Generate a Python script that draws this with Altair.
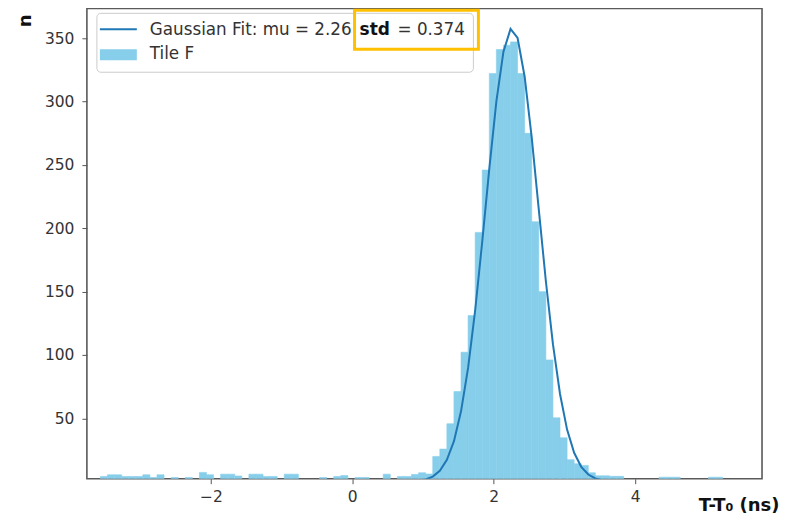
import altair as alt
import pandas as pd

# ---------------- data ----------------
bin_start = -3.562
bin_width = 0.1
counts = [
    4.1, 5.4, 5.4, 4.1, 4.1, 4.1, 5.4, 3.3, 5.4, 0,
    3.3, 0, 3.3, 0, 7.3, 5.4, 0, 5.9, 5.9, 4.5,
    0, 5.9, 5.9, 4.1, 4.1, 0, 5.9, 5.9, 0, 0,
    0, 3.3, 0, 4.1, 4.8, 0, 3.3, 3.3, 0, 0,
    5.9, 0, 4.1, 4.1, 5.7, 7.0, 6.0,
    19.9, 25.7, 45.7, 71.1, 102.2, 131.1, 196.8, 246.0, 322.2, 341.2,
    344.6, 347.2, 322.2, 275.0, 205.2, 150.0, 96.1, 50.4, 34.6, 17.3,
    14.1, 12.8,
    7.0, 4.6, 4.6, 4.2, 4.2, 0, 0, 0, 0, 0,
    3.5, 3.5, 3.5, 0, 0, 0, 0, 3.5, 3.5,
]

fit_x = [0.938, 1.038, 1.138, 1.238, 1.338, 1.438, 1.538, 1.638, 1.738, 1.838,
         1.938, 2.038, 2.138, 2.238, 2.338, 2.438, 2.538, 2.638, 2.738, 2.838,
         2.938, 3.038, 3.138, 3.238, 3.338, 3.438, 3.538, 3.638]
fit_y = [0.69, 1.72, 3.98, 8.56, 17.15, 31.98, 55.5, 89.8, 135.2, 189.4,
         247.1, 300.2, 339.5, 357.4, 350.3, 319.7, 271.6, 214.8, 158.2, 108.5,
         69.2, 41.1, 22.8, 11.7, 5.62, 2.51, 1.04, 0.42]

x_ticks = [-2, 0, 2, 4]
y_ticks = [50, 100, 150, 200, 250, 300, 350]
x_domain = [-3.753, 5.795]
y_domain = [2.3, 373.7]

legend_fit_text = "Gaussian Fit: mu = 2.26"
legend_std_text = "std"
legend_std_value = "= 0.374"
legend_hist_text = "Tile F"
x_title = "T-T\u2080 (ns)"
y_title = "n"

# ---------------- tables ----------------
rows = []
for k, c in enumerate(counts):
    if c > 0:
        x0 = bin_start + bin_width * k
        rows.append({"x": x0, "x2": x0 + bin_width, "n": c, "base": 0})
hist = pd.DataFrame(rows)
fit = pd.DataFrame({"x": fit_x, "n": fit_y})
one = pd.DataFrame({"k": [0]})

FONT = "DejaVu Sans"
BAR = "#87CEEB"
LINE = "#1f77b4"
TXT = "#333333"

x_enc_axis = alt.Axis(values=x_ticks, title=x_title, grid=False, domain=False,
                      tickSize=5, tickColor="#555555", labelFontSize=15.5,
                      labelColor=TXT, labelPadding=6, labelFont=FONT,
                      titleFont=FONT, titleFontWeight="bold", titleFontSize=18,
                      titleColor="#111111", titleX=693, titleY=32,
                      titleAlign="right", titleBaseline="alphabetic")
y_enc_axis = alt.Axis(values=y_ticks, title=y_title, grid=False, domain=False,
                      tickSize=5, tickColor="#555555", labelFontSize=15.5,
                      labelColor=TXT, labelPadding=8, labelFont=FONT,
                      titleFont=FONT, titleFontWeight="bold", titleFontSize=18,
                      titleColor="#111111", titleX=-61, titleY=12,
                      titleAngle=270, titleAlign="center", titleBaseline="middle")

xs = alt.Scale(domain=x_domain, nice=False, zero=False)
ys = alt.Scale(domain=y_domain, nice=False, zero=False)

bars = alt.Chart(hist).mark_rect(color=BAR, stroke=BAR, strokeWidth=0.6, clip=True).encode(
    x=alt.X("x:Q", scale=xs, axis=x_enc_axis),
    x2="x2:Q",
    y=alt.Y("n:Q", scale=ys, axis=y_enc_axis),
    y2="base:Q",
)

line = alt.Chart(fit).mark_line(color=LINE, strokeWidth=2, clip=True).encode(
    x=alt.X("x:Q", scale=xs, axis=x_enc_axis),
    y=alt.Y("n:Q", scale=ys, axis=y_enc_axis),
)

legend_box = alt.Chart(one).mark_rect(fill="white", fillOpacity=0.85, stroke="#cccccc",
                                      strokeWidth=1, cornerRadius=4).encode(
    x=alt.value(10), x2=alt.value(387), y=alt.value(5), y2=alt.value(64))
legend_line = alt.Chart(one).mark_rule(color=LINE, strokeWidth=2).encode(
    x=alt.value(13), x2=alt.value(50), y=alt.value(21))
legend_patch = alt.Chart(one).mark_rect(color=BAR).encode(
    x=alt.value(13), x2=alt.value(50), y=alt.value(41), y2=alt.value(52))
t_fit = alt.Chart(one).mark_text(font=FONT, fontSize=16.8, color=TXT, align="left",
                                 baseline="middle").encode(
    x=alt.value(63), y=alt.value(22), text=alt.value(legend_fit_text))
t_std = alt.Chart(one).mark_text(font=FONT, fontSize=17, fontWeight="bold", color="#111111",
                                 align="left", baseline="middle").encode(
    x=alt.value(273), y=alt.value(22), text=alt.value(legend_std_text))
t_val = alt.Chart(one).mark_text(font=FONT, fontSize=16.8, color=TXT, align="left",
                                 baseline="middle").encode(
    x=alt.value(311), y=alt.value(22), text=alt.value(legend_std_value))
t_tile = alt.Chart(one).mark_text(font=FONT, fontSize=16.8, color=TXT, align="left",
                                  baseline="middle").encode(
    x=alt.value(63), y=alt.value(46), text=alt.value(legend_hist_text))
yellow = alt.Chart(one).mark_rect(fillOpacity=0, stroke="#FFC000", strokeWidth=3).encode(
    x=alt.value(268), x2=alt.value(392), y=alt.value(2), y2=alt.value(41))

chart = alt.layer(bars, line, legend_box, legend_line, legend_patch,
                  t_fit, t_std, t_val, t_tile, yellow).properties(
    width=676, height=471, autosize="none",
    padding={"left": 79, "top": 0, "right": 22, "bottom": 36},
).configure(font=FONT).configure_view(stroke="#5a5a5a", strokeWidth=1.6)

chart.save("out.html", embed_options={"renderer": "svg", "actions": False})
